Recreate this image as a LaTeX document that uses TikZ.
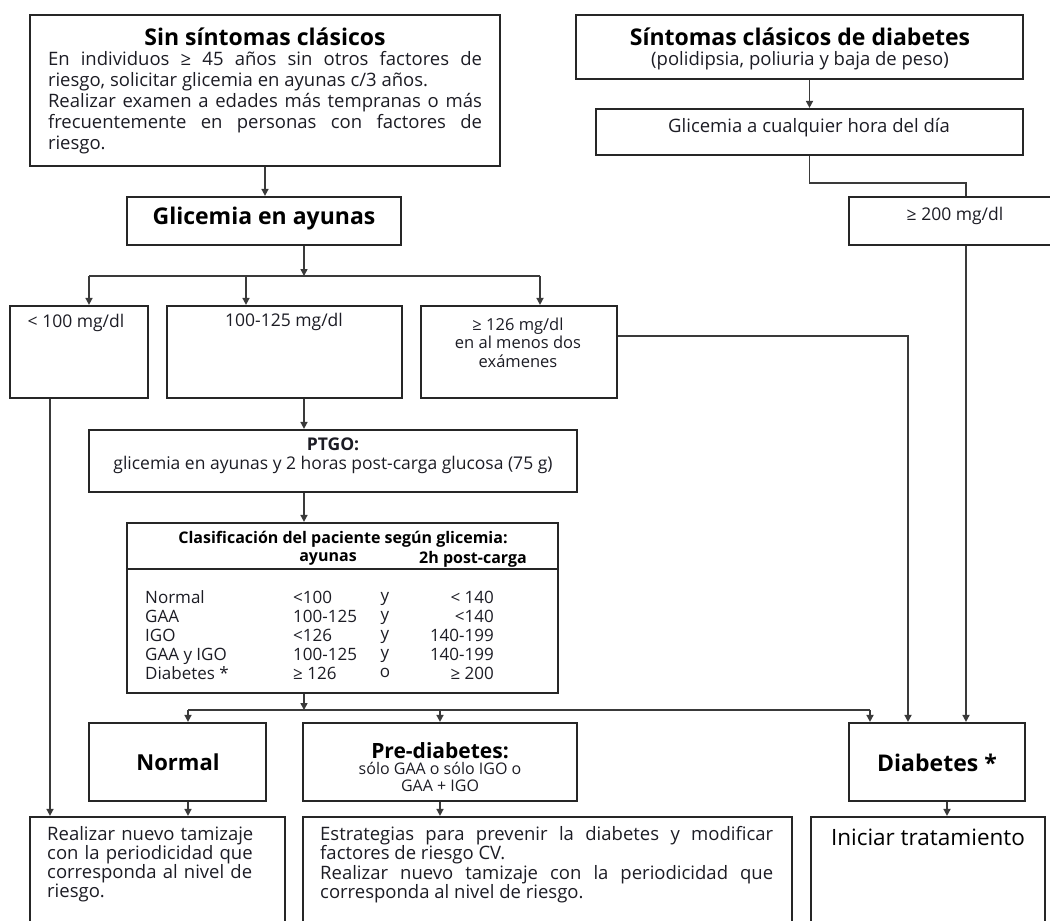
\documentclass[tikz,border=0pt]{standalone}
\usepackage{fontspec}
\setmainfont{Open Sans}
\usetikzlibrary{arrows.meta, calc}
\definecolor{cBox}{HTML}{262626}
\definecolor{cLn}{HTML}{3A3A3A}
\definecolor{cTxt}{HTML}{1C1C24}
\tikzset{
    box/.style    ={draw=cBox, line width=2.2pt, inner sep=0pt},
    head/.style   ={font=\bfseries\fontsize{23}{26}\selectfont, text=black, inner sep=0pt},
    body/.style   ={font=\fontsize{18.5}{21}\selectfont, text=cTxt, inner sep=0pt},
    small/.style  ={font=\fontsize{17.5}{18.5}\selectfont, text=cTxt, inner sep=0pt},
    tabtxt/.style ={font=\fontsize{17}{19}\selectfont, text=cTxt, inner sep=0pt},
    thead/.style  ={font=\bfseries\fontsize{16}{18}\selectfont, text=black, inner sep=0pt},
    ln/.style     ={line width=1.6pt, cLn},
    arr/.style    ={ln, -{Triangle[length=7pt, width=7pt]}},
}

\begin{document}
\begin{tikzpicture}[x=1pt, y=-1pt]
\useasboundingbox (0,0) rectangle (1050,921);

% ===================== Sin sintomas clasicos =====================
\node[box, minimum width=470pt, minimum height=151pt] (sinsint) at (265,90.5) {};
\node[head] (sinsintH) at (265,37) {Sin síntomas clásicos};
\node[body, text width=434pt, align=justify] (sinsintT) at (265,103)
     {En individuos ≥ 45 años sin otros factores de\linebreak riesgo, solicitar glicemia en ayunas c/3 años.\\
      Realizar examen a edades más tempranas o más\linebreak frecuentemente en personas con factores de\linebreak riesgo.};

% ===================== Sintomas clasicos de diabetes =====================
\node[box, minimum width=447pt, minimum height=64pt] (sintdiab) at (799.5,47) {};
\node[head] (sintdiabH) at (800,37) {Síntomas clásicos de diabetes};
\node[small, font=\fontsize{18.5}{20}\selectfont] (sintdiabT) at (800,61) {(polidipsia, poliuria y baja de peso)};

\node[box, minimum width=427pt, minimum height=46pt] (glicualq) at (809.5,132) {};
\node[small, font=\fontsize{18.5}{20}\selectfont] (glicualqT) at (809,128) {Glicemia a cualquier hora del día};

\node[box, minimum width=214pt, minimum height=48pt] (g200) at (956,221) {};
\node[small] (g200T) at (955,216) {≥ 200 mg/dl};

% ===================== Glicemia en ayunas =====================
\node[box, minimum width=274pt, minimum height=48pt] (glicay) at (264,221) {};
\node[head] (glicayT) at (264,219) {Glicemia en ayunas};

\node[box, minimum width=138pt, minimum height=92pt] (lt100) at (79,352) {};
\node[small] (lt100T) at (76,323) {< 100 mg/dl};
\node[box, minimum width=235pt, minimum height=92pt] (r100) at (284.5,352) {};
\node[small] (r100T) at (284,322) {100-125 mg/dl};
\node[box, minimum width=196pt, minimum height=92pt] (ge126) at (519,352) {};
\node[small, font=\fontsize{16.5}{18.5}\selectfont, align=center] (ge126T) at (518,342.5)
     {≥ 126 mg/dl\\en al menos dos\\exámenes};

% ===================== PTGO y clasificacion =====================
\node[box, minimum width=488pt, minimum height=62pt] (ptgo) at (333,461) {};
\node[small, align=center] (ptgoT) at (333,456)
     {\textbf{PTGO:}\\glicemia en ayunas y 2 horas post-carga glucosa (75 g)};

\node[box, minimum width=431pt, minimum height=170pt] (clasif) at (342.5,608) {};
\draw[draw=cBox, line width=2pt] ($(clasif.west)+(0,-39)$) -- ($(clasif.east)+(0,-39)$);
\node[thead] (clasifH) at (343,539) {Clasificación del paciente según glicemia:};
\node[thead] (colAy) at (328,559) {ayunas};
\node[thead] (colPc) at (473,559) {2h post-carga};
\node[tabtxt, align=left, anchor=west] (tabA) at (145,635) {Normal\\GAA\\IGO\\GAA y IGO\\Diabetes *};
\node[tabtxt, align=left, anchor=west] (tabB) at (293,635) {<100\\100-125\\<126\\100-125\\≥ 126};
\node[tabtxt, align=center] (tabC) at (385,635) {y\\y\\y\\y\\o};
\node[tabtxt, align=right, anchor=east] (tabD) at (494,635) {< 140\\<140\\140-199\\140-199\\≥ 200};

% ===================== Resultado =====================
\node[box, minimum width=177pt, minimum height=78pt] (normal) at (177.5,762) {};
\node[head, font=\bfseries\fontsize{22}{26}\selectfont] (normalT) at (178,762) {Normal};
\node[box, minimum width=274pt, minimum height=78pt] (prediab) at (440,762) {};
\node[head, font=\bfseries\fontsize{21}{24}\selectfont] (prediabH) at (440,751) {Pre-diabetes:};
\node[small, font=\fontsize{16}{16.5}\selectfont, align=center] (prediabT) at (440,777)
     {sólo GAA o sólo IGO o\\GAA + IGO};
\node[box, minimum width=176pt, minimum height=78pt] (diab) at (937,762) {};
\node[head] (diabT) at (937,763) {Diabetes *};

% ===================== Conducta =====================
\node[box, minimum width=255pt, minimum height=150pt] (realizar) at (157.5,892) {};
\node[body, font=\fontsize{18.5}{19}\selectfont, text width=235pt, align=left, anchor=north west]
     (realizarT) at (47,826)
     {Realizar nuevo tamizaje\\con la periodicidad que\\corresponda al nivel de\\riesgo.};
\node[box, minimum width=489pt, minimum height=150pt] (estrat) at (547.5,892) {};
\node[body, font=\fontsize{18.5}{19.5}\selectfont, text width=453pt, align=justify, anchor=north west]
     (estratT) at (320,826)
     {Estrategias para prevenir la diabetes y modificar\linebreak factores de riesgo CV.\\
      Realizar nuevo tamizaje con la periodicidad que\linebreak corresponda al nivel de riesgo.};
\node[box, minimum width=234pt, minimum height=150pt] (iniciar) at (928,892) {};
\node[head, font=\fontsize{22.5}{26}\selectfont] (iniciarT) at (928,837) {Iniciar tratamiento};

% ===================== Conectores =====================
\coordinate (spine) at (304,0);
\coordinate (fkL)  at (89,276);
\coordinate (fkM)  at (246,276);
\coordinate (fkR)  at (540,276);
\coordinate (fk2L) at (188,710);
\coordinate (fk2M) at (440,710);
\coordinate (fk2R) at (870,710);
\coordinate (ecol) at (908,336);
\coordinate (dcol) at (966,183);
\coordinate (lcol) at (50,0);
\coordinate (tcol) at (947,0);

\draw[arr] (sinsint.south) -- (sinsint.south |- glicay.north);
\draw[arr] (glicualq.north |- sintdiab.south) -- (glicualq.north);
\draw[ln]  (glicualq.south) |- (dcol) -- (g200.north -| dcol);
\draw[arr] (g200.south -| dcol) -- (diab.north -| dcol);

\draw[arr] (glicay.south -| spine) -- (fkL -| spine);
\draw[ln]  (fkL) -- (fkR);
\draw[arr] (fkL) -- (fkL |- lt100.north);
\draw[arr] (fkM) -- (fkM |- r100.north);
\draw[arr] (fkR) -- (fkR |- ge126.north);
\draw[arr] (ge126.east |- ecol) -| (diab.north -| ecol);
\draw[arr] (lt100.south -| lcol) -- (realizar.north -| lcol);

\draw[arr] (r100.south -| spine) -- (ptgo.north -| spine);
\draw[arr] (ptgo.south -| spine) -- (clasif.north -| spine);
\draw[arr] (clasif.south -| spine) -- (fk2L -| spine);
\draw[ln]  (fk2L) -- (fk2R);
\draw[arr] (fk2L) -- (fk2L |- normal.north);
\draw[arr] (fk2M) -- (fk2M |- prediab.north);
\draw[arr] (fk2R) -- (fk2R |- diab.north);

\draw[arr] (normal.south -| fk2L) -- (realizar.north -| fk2L);
\draw[arr] (prediab.south) -- (prediab.south |- estrat.north);
\draw[arr] (diab.south -| tcol) -- (iniciar.north -| tcol);

\end{tikzpicture}
\end{document}
